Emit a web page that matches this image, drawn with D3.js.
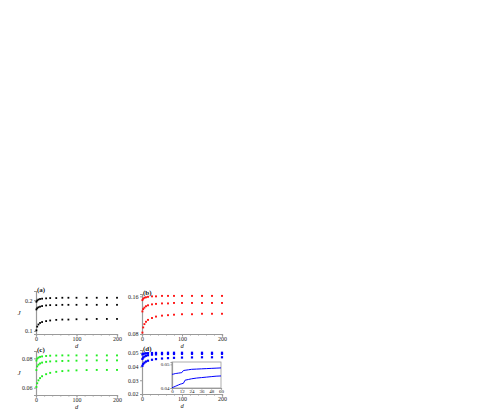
<!DOCTYPE html>
<html><head><meta charset="utf-8">
<script src="https://cdn.jsdelivr.net/npm/d3@7"></script>
<style>
html,body{margin:0;padding:0;background:#fff;}
svg{display:block;}
text{font-family:"Liberation Serif","Times New Roman",serif;fill:#222;}
</style></head>
<body>
<script>
// ---- data ----
const dValues = [1, 3, 6, 10, 15, 25, 35, 50, 65, 80, 100, 125, 150, 175, 200];
const xTicks = [0, 100, 200];

const aTop = [0.195,0.199,0.202,0.204,0.205,0.206,0.207,0.207,0.208,0.208,0.208,0.208,0.208,0.208,0.208];
const aMid = [0.170,0.174,0.177,0.179,0.181,0.183,0.184,0.184,0.185,0.185,0.185,0.185,0.185,0.185,0.185];
const aBot = [0.102,0.114,0.121,0.126,0.129,0.132,0.134,0.136,0.137,0.137,0.138,0.138,0.139,0.139,0.139];

const bTop = [0.152,0.155,0.157,0.158,0.159,0.160,0.160,0.161,0.161,0.161,0.161,0.161,0.161,0.161,0.161];
const bMid = [0.128,0.133,0.136,0.139,0.141,0.143,0.144,0.145,0.145,0.146,0.146,0.146,0.146,0.146,0.146];
const bBot = [0.083,0.094,0.101,0.106,0.110,0.114,0.117,0.119,0.120,0.121,0.122,0.122,0.123,0.123,0.123];

const cTop = [0.0785,0.0798,0.0805,0.0810,0.0813,0.0816,0.0818,0.0819,0.0820,0.0820,0.0820,0.0820,0.0820,0.0820,0.0820];
const cMid = [0.0720,0.0745,0.0757,0.0765,0.0771,0.0776,0.0779,0.0780,0.0782,0.0783,0.0784,0.0785,0.0786,0.0786,0.0786];
const cBot = [0.0605,0.0630,0.0650,0.0665,0.0678,0.0692,0.0701,0.0708,0.0713,0.0716,0.0718,0.0720,0.0721,0.0721,0.0721];

const dTop = [0.0488,0.0492,0.0494,0.0496,0.0497,0.0498,0.0499,0.0499,0.0500,0.0500,0.0500,0.0500,0.0500,0.0500,0.0500];
const dMid = [0.0455,0.0465,0.0472,0.0478,0.0482,0.0486,0.0488,0.0490,0.0491,0.0491,0.0492,0.0492,0.0492,0.0492,0.0492];
const dBot = [0.0405,0.0418,0.0428,0.0436,0.0442,0.0449,0.0454,0.0458,0.0461,0.0463,0.0465,0.0466,0.0467,0.0467,0.0467];

const insetX = [0,2,4,6,8,10,12,14,16,20,24,30,36,42,48,54,60];
const insetUpper = [0.0458,0.0459,0.0461,0.0462,0.0463,0.0464,0.0465,0.0474,0.0475,0.0477,0.0479,0.0480,0.0481,0.0482,0.0483,0.0484,0.0485];
const insetLower = [0.0401,0.0404,0.0407,0.0410,0.0413,0.0416,0.0418,0.0420,0.0433,0.0436,0.0439,0.0442,0.0444,0.0446,0.0448,0.0450,0.0451];
const insetXTicks = [0,12,24,36,48,60];
const insetYTicks = [0.04,0.05];

const panels = [
  {label:"(a)", color:"#000000", size:1.8, series:[aTop,aMid,aBot], yDomain:[0.09,0.23], yTicks:[0.1,0.2], fmt:d3.format(".1f"),
   x0:36, x1:117, y0:334, y1:291, ylab:true},
  {label:"(b)", color:"#ff1010", size:1.9, series:[bTop,bMid,bBot], yDomain:[0.08,0.165], yTicks:[0.08,0.16], fmt:d3.format(".2f"),
   x0:142, x1:222, y0:334, y1:294, ylab:false},
  {label:"(c)", color:"#22ee22", size:1.9, series:[cTop,cMid,cBot], yDomain:[0.055,0.085], yTicks:[0.06,0.08], fmt:d3.format(".2f"),
   x0:36, x1:117, y0:395, y1:351, ylab:true},
  {label:"(d)", color:"#0000ff", size:2.2, series:[dTop,dMid,dBot], yDomain:[0.02,0.052], yTicks:[0.02,0.03,0.04,0.05], fmt:d3.format(".2f"),
   x0:142, x1:222, y0:394, y1:350, ylab:false}
];

const svg = d3.select("body").append("svg").attr("width",485).attr("height",415);
const axisColor = "#9a9a9a";

function styleAxis(g, fs){
  g.selectAll(".domain").attr("stroke",axisColor).attr("stroke-width",1.2);
  g.selectAll(".tick line").attr("stroke",axisColor);
  g.selectAll(".tick text").attr("font-size",(fs||6)+"px").attr("fill","#222")
   .attr("font-family","'Liberation Serif','Times New Roman',serif");
}

panels.forEach(p => {
  const x = d3.scaleLinear().domain([0,200]).range([p.x0,p.x1]);
  const y = d3.scaleLinear().domain(p.yDomain).range([p.y0,p.y1]);
  const g = svg.append("g");

  const gxm = g.append("g").attr("transform",`translate(0,${p.y0})`)
    .call(d3.axisBottom(x).tickValues(d3.range(0,201,20)).tickSize(1.5).tickFormat(""));
  styleAxis(gxm);
  const gx = g.append("g").attr("transform",`translate(0,${p.y0})`)
    .call(d3.axisBottom(x).tickValues(xTicks).tickSize(2.5).tickPadding(0).tickFormat(d3.format("d")));
  styleAxis(gx);
  const gy = g.append("g").attr("transform",`translate(${p.x0},0)`)
    .call(d3.axisLeft(y).tickValues(p.yTicks).tickSize(2).tickPadding(1.5).tickFormat(p.fmt));
  styleAxis(gy);

  p.series.forEach(s => {
    g.append("g").selectAll("rect").data(dValues.map((d,i)=>[d,s[i]])).join("rect")
      .attr("x",d=>x(d[0])-p.size/2).attr("y",d=>y(d[1])-p.size/2)
      .attr("width",p.size).attr("height",p.size).attr("fill",p.color);
  });

  g.append("text").attr("x",p.x0+1).attr("y",p.y1+0.5).attr("font-size","7px").attr("font-weight","bold").text(p.label);
  g.append("text").attr("x",(p.x0+p.x1)/2).attr("y",p.y0+13.5).attr("text-anchor","middle")
    .attr("font-size","6.5px").attr("font-style","italic").text("d");
  if (p.ylab) {
    g.append("text").attr("x",p.x0-17).attr("y",(p.y0+p.y1)/2+2).attr("text-anchor","middle")
      .attr("font-size","7px").attr("font-style","italic").text("J");
  }

  if (p.label === "(d)") {
    const ix = d3.scaleLinear().domain([0,60]).range([172,221]);
    const iy = d3.scaleLinear().domain([0.04,0.051]).range([388,362]);
    const ig = g.append("g");
    ig.append("rect").attr("x",172).attr("y",362).attr("width",49).attr("height",26)
      .attr("fill","#fff").attr("stroke",axisColor).attr("stroke-width",0.8);
    const igx = ig.append("g").attr("transform","translate(0,388)")
      .call(d3.axisBottom(ix).tickValues(insetXTicks).tickSize(1.5).tickPadding(0));
    styleAxis(igx, 5);
    const igy = ig.append("g").attr("transform","translate(172,0)")
      .call(d3.axisLeft(iy).tickValues(insetYTicks).tickSize(1.5).tickPadding(1).tickFormat(d3.format(".2f")));
    styleAxis(igy, 5);
    const line = d3.line().x((d,i)=>ix(insetX[i])).y(d=>iy(d));
    [insetUpper, insetLower].forEach(s=>{
      ig.append("path").attr("d",line(s)).attr("fill","none").attr("stroke","#0000ff").attr("stroke-width",1);
    });
  }
});
</script>
</body></html>
